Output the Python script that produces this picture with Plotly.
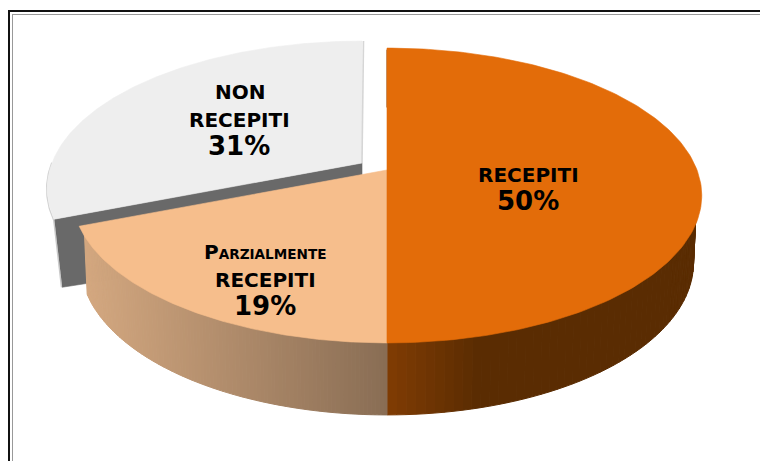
import numpy as np
import plotly.graph_objects as go

# Data
categories = ["RECEPITI", "PARZIALMENTE RECEPITI", "NON RECEPITI"]
shares = [50, 19, 31]
top_colors = ["#E36C09", "#F6BE8C", "#EEEEEE"]

# Projection of the tilted pie on the page
CX, CY = 387.0, 170.0
A, B, K = 310.0, 143.0, 0.173
X_SCALE = 0.974
DROP0, DROP1 = 65.7, 6.3
EXPLODE = (-25.0, -7.0)
W, H = 760, 461


def top(th, off=(0.0, 0.0), r=1.0):
    th = np.radians(th)
    X, Y = r * np.sin(th), -r * np.cos(th)
    w = 1 - K * Y
    return CX + off[0] + A * X / w, CY + off[1] + B * Y / w


def bottom(th, off=(0.0, 0.0)):
    x, y = top(th)
    Y = -np.cos(np.radians(th))
    return CX + off[0] + (x - CX) * X_SCALE, y + off[1] + DROP0 + DROP1 * Y


def mix(c1, c2, t):
    t = min(max(t, 0), 1)
    return "rgb(%d,%d,%d)" % tuple(round(a + (b - a) * t) for a, b in zip(c1, c2))


fig = go.Figure()


def poly(xs, ys, color, line=1.2):
    fig.add_trace(go.Scatter(x=list(xs), y=list(ys), mode="lines", fill="toself", fillcolor=color,
                             line=dict(color=color, width=line), hoverinfo="skip", showlegend=False))


def stroke(xs, ys, color, width):
    fig.add_trace(go.Scatter(x=list(xs), y=list(ys), mode="lines", line=dict(color=color, width=width),
                             hoverinfo="skip", showlegend=False))


def wall(t0, t1, color_at, n=70):
    # The upper edge of each strip is tucked under the top face so no dark halo shows on the rim
    ths = np.linspace(t0, t1, n + 1)
    for a, b in zip(ths[:-1], ths[1:]):
        xa, ya = top(a, r=0.985)
        xb, yb = top(b, r=0.985)
        xc, yc = bottom(b)
        xd, yd = bottom(a)
        poly([xa, xb, xc, xd, xa], [ya, yb, yc, yd, ya], color_at((xc + xd) / 2), line=1.0)


def face(t0, t1, color, off=(0.0, 0.0)):
    ths = np.linspace(t0, t1, 160)
    xs, ys = top(ths, off)
    cx, cy = top(0.0, off)[0], CY + off[1]
    poly(np.r_[cx, xs, cx], np.r_[cy, ys, cy], color, line=0.6)


edges = np.cumsum([0] + shares) * 3.6
a0, a1, a2, a3 = edges

# Exploded wedge: cut face, thin rim, top
ex0, ey0 = top(a2, EXPLODE)
ex1, ey1 = bottom(a2, EXPLODE)
tipx, tipy = CX + EXPLODE[0], CY + EXPLODE[1]
poly([tipx, ex0, ex1, tipx, tipx], [tipy, ey0, ey1, tipy + 78, tipy], "#696969", line=0.6)
stroke([ex0 - 0.5, ex1 - 0.7], [ey0, ey1], "#C9C9C9", 1.4)
rx, ry = top(np.linspace(a2, a2 + 22, 30), EXPLODE)
stroke(rx - 0.6, ry + 0.6, "#D2D2D2", 1.4)
face(a2, a3, top_colors[2], EXPLODE)
gx, gy = top(a3, EXPLODE)
stroke([gx + 1.5, tipx], [gy, tipy], "#D6D6D6", 1.6)

# Walls of the two other slices
wall(a0, a1, lambda x: mix((128, 60, 3), (90, 44, 2), (x - 387) / 90), n=120)
wall(a1, a2, lambda x: mix((212, 168, 128), (137, 109, 84), (x - 85) / 302), n=110)

# Top faces
face(a1, a2, top_colors[1])
face(a0, a1, top_colors[0])

# Page frame
shapes = [
    dict(type="rect", xref="x", yref="y", x0=8, x1=770, y0=10, y1=12, fillcolor="#111111", line_width=0),
    dict(type="rect", xref="x", yref="y", x0=8, x1=10, y0=10, y1=470, fillcolor="#111111", line_width=0),
    dict(type="rect", xref="x", yref="y", x0=12, x1=770, y0=14, y1=15, fillcolor="#999999", line_width=0),
    dict(type="rect", xref="x", yref="y", x0=12, x1=13, y0=14, y1=470, fillcolor="#999999", line_width=0),
]

FONT = "DejaVu Sans"
NAME, PCT, SMALL = 20, 26, 13.6
label_lines = [
    ("RECEPITI", 528, 175, NAME),
    (f"{shares[0]}%", 528, 201, PCT),
    ("NON", 240, 92, NAME),
    ("RECEPITI", 239, 120, NAME),
    (f"{shares[2]}%", 239, 146, PCT),
    (f'P<span style="font-size:{SMALL}px">ARZIALMENTE</span>', 265, 252, NAME),
    ("RECEPITI", 265, 280, NAME),
    (f"{shares[1]}%", 265, 306, PCT),
]
annotations = [dict(x=x, y=y, xref="x", yref="y", text=f"<b>{t}</b>", showarrow=False,
                    xanchor="center", yanchor="middle",
                    font=dict(family=FONT, size=s, color="#000000"))
               for t, x, y, s in label_lines]

fig.update_layout(
    width=W, height=H, margin=dict(l=0, r=0, t=0, b=0), paper_bgcolor="white", plot_bgcolor="white",
    xaxis=dict(range=[0, W], visible=False, fixedrange=True),
    yaxis=dict(range=[H, 0], visible=False, fixedrange=True),
    shapes=shapes, annotations=annotations, showlegend=False,
)
fig.write_html("out.html", config={"displayModeBar": False},
               post_script="document.body.style.margin='0';document.body.style.overflow='hidden';")
